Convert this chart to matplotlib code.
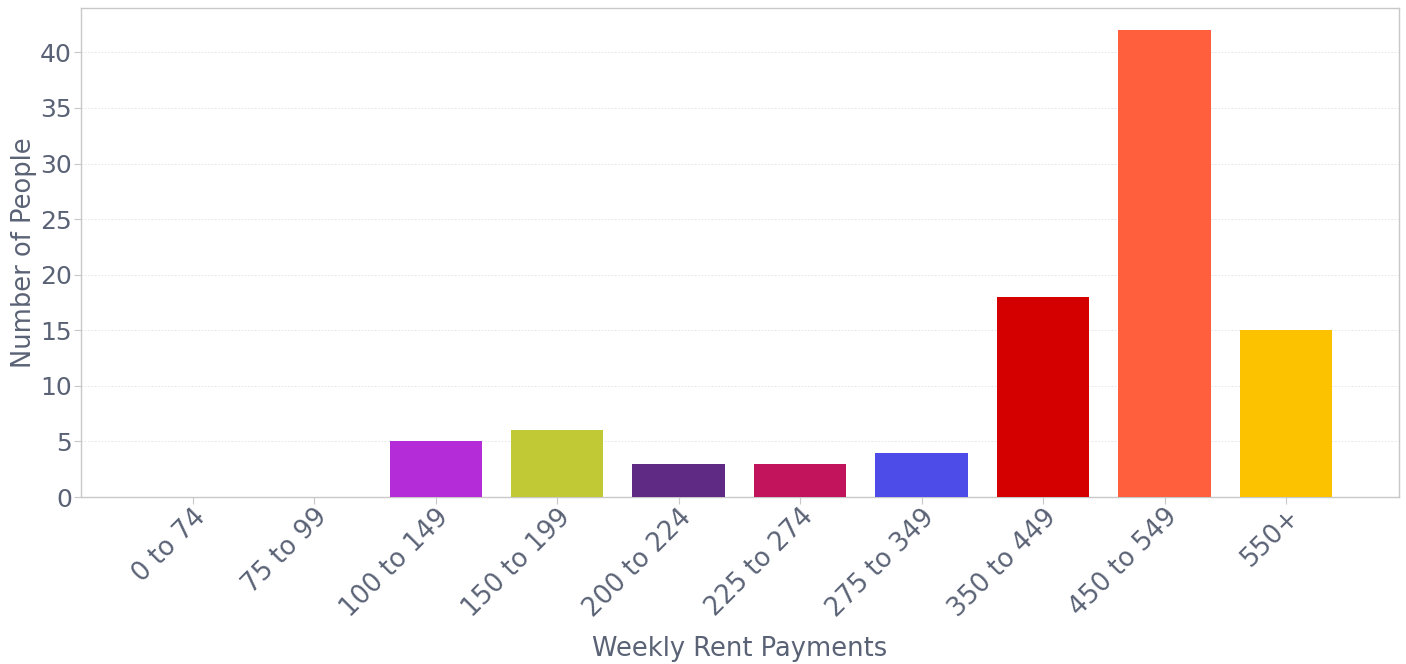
import matplotlib
matplotlib.use("Agg")
import matplotlib.pyplot as plt

categories = ["0 to 74", "75 to 99", "100 to 149", "150 to 199", "200 to 224",
              "225 to 274", "275 to 349", "350 to 449", "450 to 549", "550+"]
counts = [0, 0, 5, 6, 3, 3, 4, 18, 42, 15]
colors = ["#3366cc", "#dc3912", "#b42bd8", "#c1c934", "#5f2a84",
          "#c2145c", "#4e4ce8", "#d40000", "#ff5f3c", "#fcc200"]

text_col = "#5a6275"
grid_col = "#c0c4cc"

plt.rcParams["font.family"] = ["DejaVu Sans"]

fig = plt.figure(figsize=(14.06, 6.64), dpi=100)
ax = fig.add_axes([0.0576, 0.2515, 0.9374, 0.7365])

x = list(range(len(categories)))
ax.bar(x, counts, width=0.76, color=colors, zorder=3)

ax.set_xlim(-0.92, 9.93)
ax.set_ylim(0, 44)
ax.set_yticks([0, 5, 10, 15, 20, 25, 30, 35, 40])
ax.set_xticks(x)
ax.set_xticklabels(categories, rotation=45, ha="right", rotation_mode="anchor")

ax.grid(axis="y", color=grid_col, linestyle=(0, (2, 2)), linewidth=0.6, alpha=0.5, zorder=0)
for s in ax.spines.values():
    s.set_color("#c8c8c8")
    s.set_linewidth(1.0)

ax.tick_params(axis="y", labelsize=18, colors="#c8c8c8", labelcolor=text_col, length=5, pad=1.5)
ax.tick_params(axis="x", labelsize=18.5, colors="#c8c8c8", labelcolor=text_col, length=5, pad=0)

ax.set_xlabel("Weekly Rent Payments", fontsize=18.5, color=text_col, labelpad=10)
ax.set_ylabel("Number of People", fontsize=18.5, color=text_col, labelpad=2)

fig.savefig("out.png", dpi=100, facecolor="white")
